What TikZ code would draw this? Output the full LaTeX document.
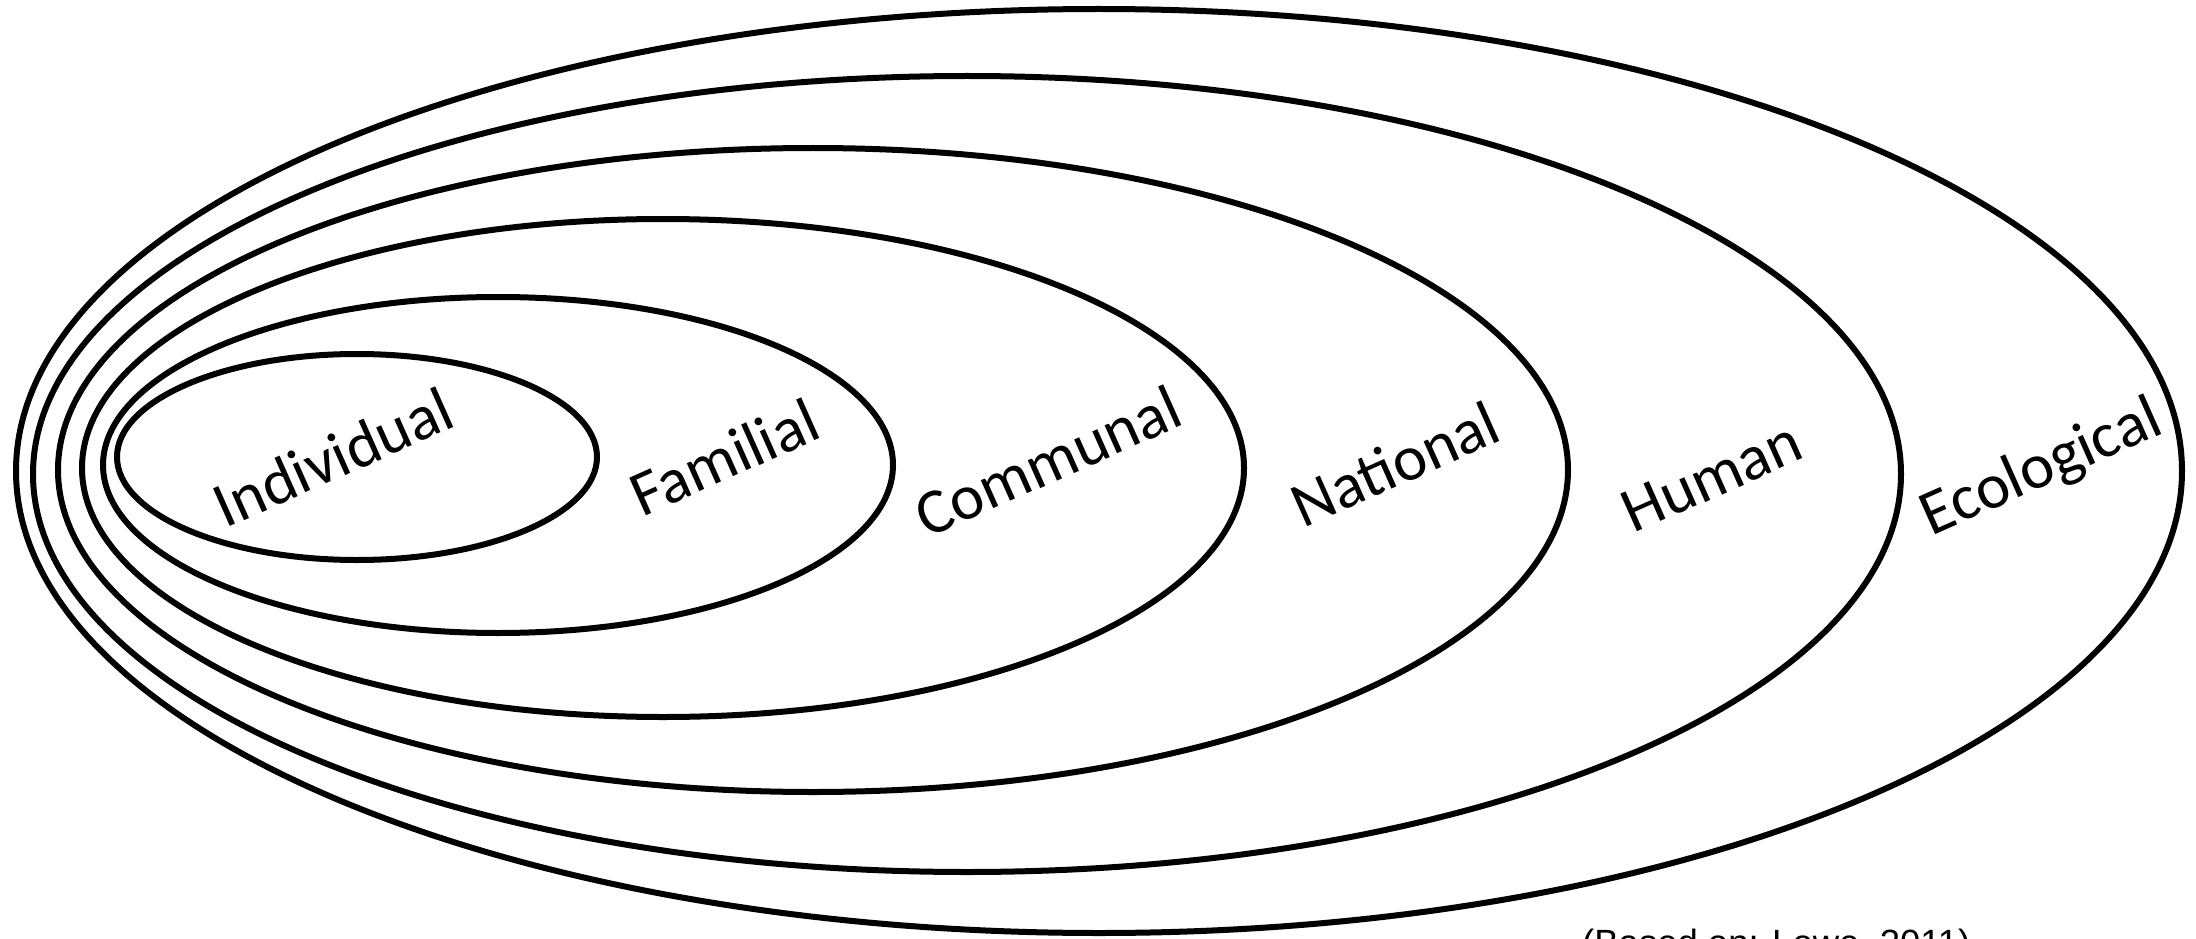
\documentclass[tikz,border=0pt]{standalone}
\usepackage{fontspec}
\setmainfont{Carlito}
\newfontfamily\notefont{Liberation Sans}
\begin{document}
\begin{tikzpicture}[x=1pt,y=-1pt,
  ring/.style={draw=black, line width=6pt},
  lab/.style={font=\fontsize{64}{70}\selectfont, rotate=24, inner sep=0pt},
  note/.style={font=\notefont\fontsize{36.5}{40}\selectfont, anchor=base west, inner sep=0pt}]
\useasboundingbox (0,0) rectangle (2196,939);
\fill[white] (0,0) rectangle (2196,939);

% nested spheres, outermost first
\draw[ring] (1099,471) ellipse [x radius=1083pt, y radius=462pt];
\draw[ring] (967,474)  ellipse [x radius=934pt,  y radius=398pt];
\draw[ring] (813,470)  ellipse [x radius=755pt,  y radius=322pt];
\draw[ring] (663,468)  ellipse [x radius=581pt,  y radius=249pt];
\draw[ring] (498,465)  ellipse [x radius=395pt,  y radius=168pt];
\draw[ring] (357,457)  ellipse [x radius=240pt,  y radius=103pt];

% sphere labels
\node[lab] (ind) at (333,457) {Individual};
\node[lab] (fam) at (724,457) {Familial};
\node[lab] (com) at (1048,461) {Communal};
\node[lab] (nat) at (1395,464) {National};
\node[lab] (hum) at (1712,477) {Human};
\node[lab] (eco) at (2042,469) {Ecological};

% source line
\node[note] (src) at (1582,955) {(Based on: Lowe, 2011)};
\end{tikzpicture}
\end{document}
